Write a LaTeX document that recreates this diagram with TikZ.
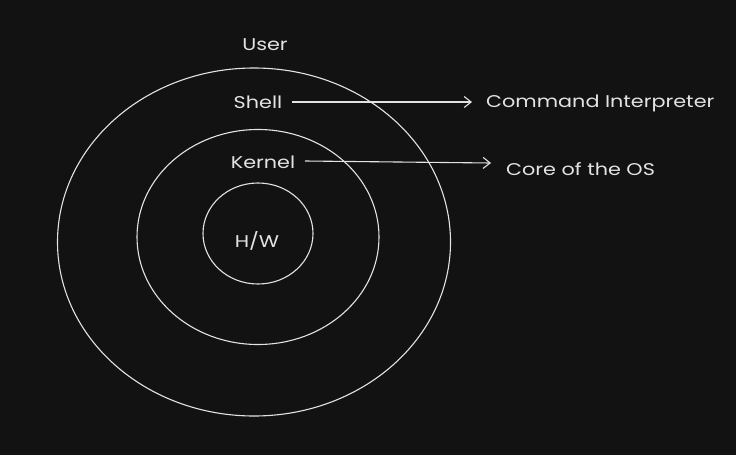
\documentclass[tikz,border=0pt]{standalone}
\usepackage{graphicx}
\usepackage{fontspec}
\setmainfont{Poppins}
\usetikzlibrary{arrows.meta}
\definecolor{bg}{HTML}{121212}
\definecolor{ink}{HTML}{E3E3E3}
\newcommand{\handtxt}[1]{\scalebox{1.22}[1]{#1}}
\begin{document}
\begin{tikzpicture}[x=1pt,y=-1pt,
  ring/.style={draw=ink,line width=1.1pt},
  lbl/.style={text=ink,font=\fontsize{17}{20}\selectfont,inner sep=0pt,anchor=center},
  conn/.style={draw=ink,line width=1.1pt,-{Straight Barb[length=7pt,width=11pt]}}]
\fill[bg] (0,0) rectangle (736,455);
\useasboundingbox (0,0) rectangle (736,455);
\draw[ring] (254,242) ellipse [x radius=196.5,y radius=174];
\draw[ring] (258,237) ellipse [x radius=121,y radius=107.5];
\draw[ring] (258,233.5) ellipse [x radius=55,y radius=50.5];
\node[lbl] (user) at (265,45) {\handtxt{User}};
\node[lbl] (shell) at (258,102) {\handtxt{Shell}};
\node[lbl] (kernel) at (263,162) {\handtxt{Kernel}};
\node[lbl] (hw) at (257,241) {\handtxt{H/W}};
\node[lbl,anchor=west] (cmd) at (486,103) {\handtxt{Command Interpreter}};
\node[lbl,anchor=west] (core) at (506,169) {\handtxt{Core of the OS}};
\coordinate (a1s) at (292,102);
\coordinate (a1e) at (472,102);
\coordinate (a2s) at (305,161);
\coordinate (a2e) at (491,163);
\draw[conn] (a1s) -- (a1e);
\draw[conn] (a2s) -- (a2e);
\end{tikzpicture}
\end{document}
